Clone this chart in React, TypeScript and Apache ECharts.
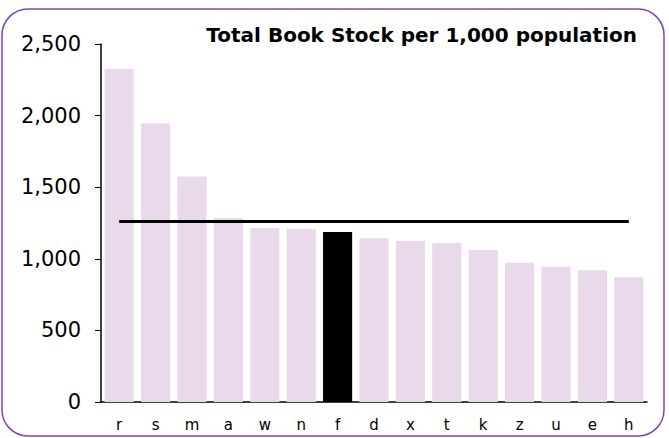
import React, { useEffect, useRef } from "react";
import * as echarts from "echarts";

const categories = ["r", "s", "m", "a", "w", "n", "f", "d", "x", "t", "k", "z", "u", "e", "h"];
const stockValues = [2325, 1945, 1575, 1285, 1215, 1208, 1187, 1143, 1124, 1110, 1061, 973, 945, 920, 871];
const highlighted = "f";
const averageValue = 1260;
const yTicks = [0, 500, 1000, 1500, 2000, 2500];
const title = "Total Book Stock per 1,000 population";

export default function App() {
  const ref = useRef<HTMLDivElement>(null);
  useEffect(() => {
    if (!ref.current) return;
    const chart = echarts.init(ref.current, null, { renderer: "svg" });
    const font = "'DejaVu Sans', Verdana, sans-serif";
    chart.setOption({
      animation: false,
      backgroundColor: "#ffffff",
      graphic: [
        {
          type: "rect",
          shape: { x: 2, y: 9, width: 662, height: 427, r: 26 },
          style: { fill: "none", stroke: "#7d45b8", lineWidth: 1.5 },
          silent: true,
        },
        {
          type: "text",
          right: 32,
          top: 25,
          style: { text: title, font: `bold 20px ${font}`, fill: "#000" },
        },
      ],
      grid: { left: 101, right: 22, top: 44, bottom: 36, containLabel: false },
      xAxis: {
        type: "category",
        data: categories,
        axisLine: { lineStyle: { color: "#000", width: 1.5 } },
        axisTick: { show: false },
        axisLabel: { color: "#000", fontSize: 15, fontFamily: font, margin: 15 },
      },
      yAxis: {
        type: "value",
        min: 0,
        max: yTicks[yTicks.length - 1],
        interval: 500,
        splitLine: { show: false },
        axisLine: { show: true, lineStyle: { color: "#000", width: 1.5 } },
        axisTick: { show: true, length: 6, lineStyle: { color: "#000" } },
        axisLabel: {
          color: "#000",
          fontSize: 21,
          fontFamily: font,
          margin: 20,
          formatter: (v: number) => v.toLocaleString("en-US"),
        },
      },
      series: [
        {
          type: "bar",
          barWidth: "80%",
          data: stockValues.map((v, i) => ({
            value: v,
            itemStyle: { color: categories[i] === highlighted ? "#000000" : "#ead9eb" },
          })),
        },
        {
          type: "line",
          data: categories.map(() => averageValue),
          symbol: "none",
          lineStyle: { color: "#000", width: 3 },
          z: 5,
        },
      ],
    });
    return () => chart.dispose();
  }, []);
  return (
    <div
      ref={ref}
      style={{ position: "fixed", left: 0, top: 0, width: 669, height: 438 }}
    />
  );
}
